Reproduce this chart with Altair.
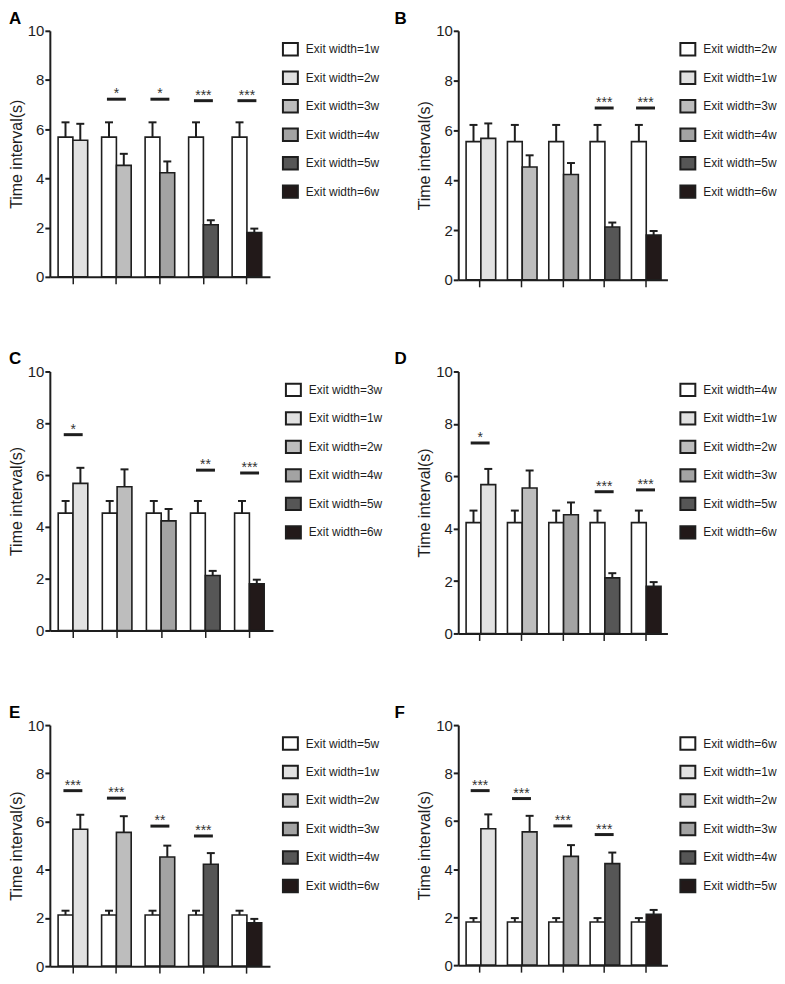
import altair as alt
import pandas as pd

# ---- data ----
widths = ["1w", "2w", "3w", "4w", "5w", "6w"]
means = [5.68, 5.55, 4.53, 4.23, 2.12, 1.80]
sds = [0.60, 0.67, 0.47, 0.46, 0.18, 0.16]

panel_letters = ["A", "B", "C", "D", "E", "F"]
reference_width = ["1w", "2w", "3w", "4w", "5w", "6w"]

sig_stars = {
    "A": ["", "*", "*", "***", "***"],
    "B": ["", "", "", "***", "***"],
    "C": ["*", "", "", "**", "***"],
    "D": ["*", "", "", "***", "***"],
    "E": ["***", "***", "**", "***", ""],
    "F": ["***", "***", "***", "***", ""],
}
sig_heights = {
    "A": [0, 7.22, 7.22, 7.16, 7.16],
    "B": [0, 0, 0, 6.90, 6.90],
    "C": [7.56, 0, 0, 6.19, 6.08],
    "D": [7.27, 0, 0, 5.41, 5.48],
    "E": [7.28, 6.97, 5.81, 5.40, 0],
    "F": [7.27, 6.94, 5.80, 5.44, 0],
}

fill_colors = ["#ffffff", "#e1e1e1", "#bdbdbd", "#a3a3a3", "#565656", "#221919"]
panel_sizes = {
    "A": (221, 247), "B": (210, 250),
    "C": (224, 260), "D": (210, 263),
    "E": (221, 242), "F": (210, 241),
}
letter_dx = {"A": -41, "B": -64, "C": -41, "D": -64, "E": -41, "F": -64}

SANS = "Liberation Sans, Arial, sans-serif"
INK = "#1e1e1e"


def make_panel(letter, ref):
    others = [w for w in widths if w != ref]
    order = [ref] + others
    labels = ["Exit width=" + w for w in order]
    rows = []
    for gi, w in enumerate(others):
        g = str(gi + 1)
        for slot, ww in (("a", ref), ("b", w)):
            i = widths.index(ww)
            rows.append({"g": g, "slot": slot, "label": "Exit width=" + ww,
                         "v": means[i], "top": means[i] + sds[i]})
    df = pd.DataFrame(rows)
    sig = pd.DataFrame({"g": [str(i + 1) for i in range(5)],
                        "y": sig_heights[letter], "s": sig_stars[letter]})
    sig = sig[sig["s"] != ""]

    w, h = panel_sizes[letter]
    xs = alt.X("g:N", sort=[str(i + 1) for i in range(5)],
               scale=alt.Scale(paddingInner=0.32, paddingOuter=0.19),
               axis=alt.Axis(labels=False, title=None, tickSize=7, tickWidth=1.5,
                             tickColor=INK, domainWidth=2, domainColor=INK))
    ys = alt.Y("v:Q", scale=alt.Scale(domain=[0, 10]),
               axis=alt.Axis(values=[0, 2, 4, 6, 8, 10], title="Time interval(s)",
                             titleFont=SANS, titleFontSize=16, titleFontWeight="normal",
                             titleColor=INK, titlePadding=3,
                             labelFont=SANS, labelFontSize=15, labelColor=INK,
                             labelPadding=1, tickSize=5, tickWidth=2, tickColor=INK,
                             domainWidth=2, domainColor=INK, grid=False))
    xo = alt.XOffset("slot:N", scale=alt.Scale(paddingInner=0, paddingOuter=0))

    base = alt.Chart(df)
    bars = base.mark_bar(stroke=INK, strokeWidth=1.6, opacity=1).encode(
        x=xs, y=ys, xOffset=xo,
        color=alt.Color("label:N", scale=alt.Scale(domain=labels, range=fill_colors),
                        legend=alt.Legend(title=None, orient="none", legendX=w + 12,
                                          legendY=10, symbolType="M-1,-0.83H1V0.83H-1Z",
                                          symbolSize=225, symbolStrokeColor=INK,
                                          symbolStrokeWidth=2, symbolOpacity=1,
                                          labelFont=SANS, labelFontSize=12,
                                          labelColor=INK, labelOffset=7,
                                          rowPadding=7.6, padding=0)))
    err = base.mark_rule(color=INK, strokeWidth=2, opacity=1).encode(
        x=xs, xOffset=xo, y="v:Q", y2="top:Q")
    cap = base.mark_tick(color=INK, size=8, thickness=2, orient="horizontal",
                         opacity=1).encode(x=xs, xOffset=xo, y="top:Q")
    sline = alt.Chart(sig).mark_tick(color=INK, size=19, thickness=3, opacity=1,
                                     orient="horizontal").encode(x=xs, y="y:Q")
    stxt = alt.Chart(sig).mark_text(color="#333333", font=SANS, fontSize=14,
                                    baseline="alphabetic", dy=-1).encode(
        x=xs, y="y:Q", text="s:N")
    lab = alt.Chart(pd.DataFrame({"t": [letter]})).mark_text(
        font=SANS, fontSize=17, fontWeight="bold", color="black",
        align="left", baseline="top").encode(
        x=alt.value(letter_dx[letter]), y=alt.value(-20), text="t:N")

    return alt.layer(bars, err, cap, sline, stxt, lab).properties(width=w, height=h)


panels = [make_panel(L, r) for L, r in zip(panel_letters, reference_width)]

chart = alt.concat(*panels, columns=2, spacing=alt.RowColnumber(row=92, column=186),
                   bounds="flush").resolve_scale(
    color="independent", x="independent", y="independent").properties(
    padding={"left": 0, "top": 0, "right": 0, "bottom": 0}
).configure(background="white").configure_view(stroke="transparent", strokeWidth=0)

chart.save("out.html", embed_options={"renderer": "svg", "actions": False})
